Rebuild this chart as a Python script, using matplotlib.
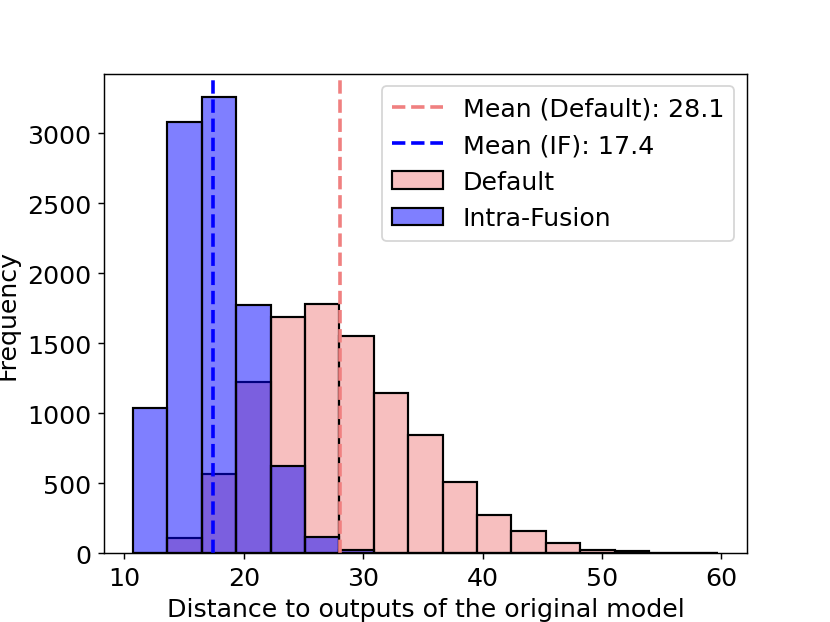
import numpy as np
import matplotlib.pyplot as plt
from matplotlib.colors import to_rgba

# histogram counts (17 shared bins)
bin_lo, bin_hi, n_bins = 10.73, 59.7, 17
default_counts = [5, 108, 571, 1224, 1686, 1783, 1550, 1146, 843, 512, 276, 162, 78, 27, 15, 6, 2]
intra_counts = [1036, 3080, 3262, 1771, 624, 118, 22, 0, 0, 0, 0, 0, 0, 0, 0, 0, 0]
mean_default = 28.1
mean_if = 17.4

edges = np.linspace(bin_lo, bin_hi, n_bins + 1)
centers = (edges[:-1] + edges[1:]) / 2

fig, ax = plt.subplots(figsize=(6.385, 4.792), dpi=130)

_, _, p_def = ax.hist(centers, bins=edges, weights=default_counts,
                      facecolor=to_rgba('lightcoral', 0.5), edgecolor='black',
                      linewidth=1.2, label='Default')
_, _, p_if = ax.hist(centers, bins=edges, weights=intra_counts,
                     facecolor=to_rgba('blue', 0.5), edgecolor='black',
                     linewidth=1.2, label='Intra-Fusion')

l1 = ax.axvline(mean_default, color='lightcoral', linestyle='--', linewidth=2,
                label='Mean (Default): %.1f' % mean_default)
l2 = ax.axvline(mean_if, color='blue', linestyle='--', linewidth=2,
                label='Mean (IF): %.1f' % mean_if)

ax.set_xlabel('Distance to outputs of the original model', fontsize=14)
ax.set_ylabel('Frequency', fontsize=14)
ax.tick_params(axis='both', which='major', labelsize=14)
ax.legend(handles=[l1, l2, p_def[0], p_if[0]],
          labels=['Mean (Default): %.1f' % mean_default, 'Mean (IF): %.1f' % mean_if,
                  'Default', 'Intra-Fusion'],
          fontsize=14, loc='upper right')

plt.savefig('out.png', dpi=130)
